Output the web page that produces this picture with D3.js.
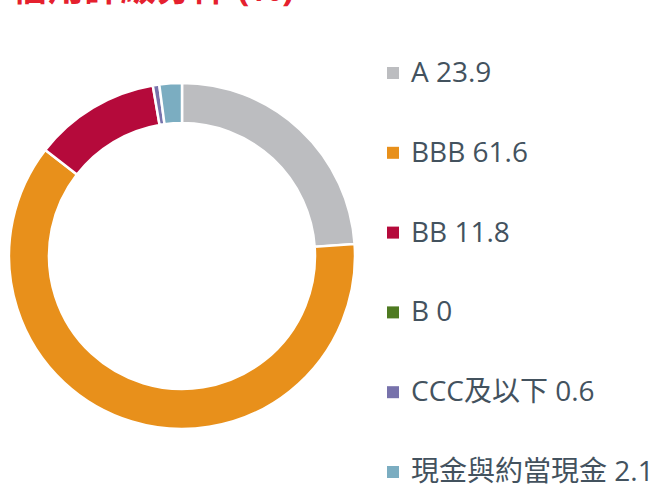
<!DOCTYPE html>
<html>
<head>
<meta charset="utf-8">
<script src="https://cdn.jsdelivr.net/npm/d3@7"></script>
<style>
  body { margin: 0; background: #fff; }
  svg { display: block; }
  text { font-family: "Open Sans", "Noto Sans CJK TC", sans-serif; }
</style>
</head>
<body>
<div id="chart"></div>
<script>
// chart data
var title = "信用評級分佈 (%)";
var categories = ["A", "BBB", "BB", "B", "CCC及以下", "現金與約當現金"];
var values = [23.9, 61.6, 11.8, 0, 0.6, 2.1];
var colors = ["#bcbdc0", "#e8901b", "#b50a3b", "#4e7a21", "#7772ab", "#7badc1"];

(function() {
    var width = 652, height = 486;
    var cx = 182, cy = 256;
    var outerR = 173, innerR = 133;

    var svg = d3.select("#chart").append("svg")
        .attr("width", width)
        .attr("height", height);

    // title sits mostly above the visible area, as in the original
    svg.append("text")
        .attr("x", 12)
        .attr("y", 1)
        .attr("fill", "#e5202e")
        .style("font-size", "36px")
        .style("font-weight", "bold")
        .text(title);

    var rows = categories.map(function(c, i) {
        return { name: c, value: values[i], color: colors[i] };
    });

    var pie = d3.pie()
        .sort(null)
        .value(function(d) { return d.value; });

    var arc = d3.arc()
        .innerRadius(innerR)
        .outerRadius(outerR);

    var g = svg.append("g")
        .attr("transform", "translate(" + cx + "," + cy + ")");

    g.selectAll("path")
        .data(pie(rows).filter(function(d) { return d.value > 0; }))
        .enter().append("path")
        .attr("d", arc)
        .attr("fill", function(d) { return d.data.color; })
        .attr("stroke", "#fff")
        .attr("stroke-width", 2.5);

    // legend
    var y = d3.scaleLinear().domain([0, rows.length - 1]).range([82, 481]);
    var leg = svg.append("g");
    var item = leg.selectAll("g")
        .data(rows)
        .enter().append("g")
        .attr("transform", function(d, i) { return "translate(0," + y(i) + ")"; });

    item.append("rect")
        .attr("x", 387)
        .attr("y", -15)
        .attr("width", 12)
        .attr("height", 12)
        .attr("fill", function(d) { return d.color; });

    item.append("text")
        .attr("x", 411)
        .attr("y", 0)
        .attr("fill", "#43525e")
        .style("font-size", "28px")
        .text(function(d) { return d.name + " " + d.value; });
})();
</script>
</body>
</html>
